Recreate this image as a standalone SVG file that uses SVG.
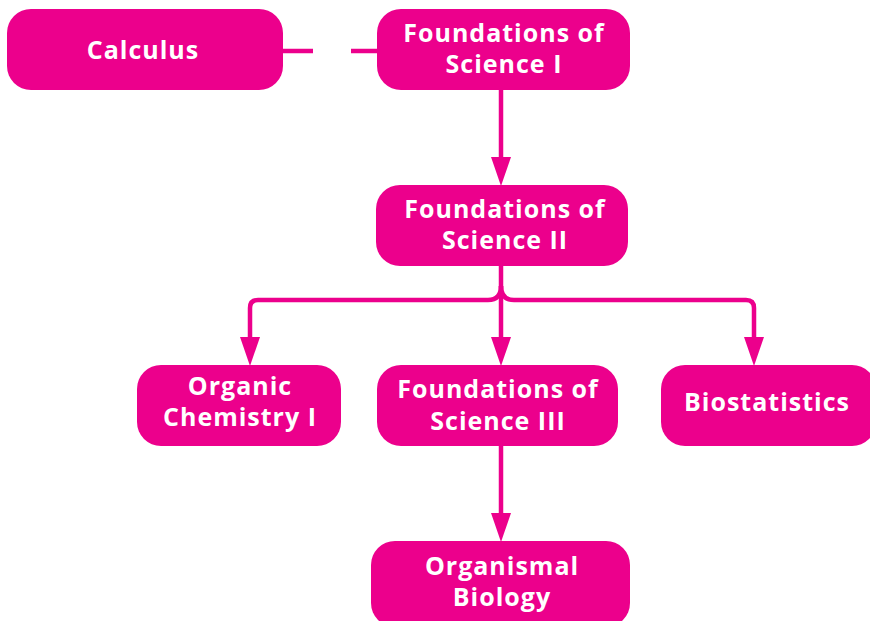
<svg xmlns="http://www.w3.org/2000/svg" width="870" height="621" viewBox="0 0 870 621">
<style>
.box{fill:#EC008C}
.t{fill:#fff;font-family:"Open Sans","Liberation Sans",sans-serif;font-weight:bold;font-size:25px;letter-spacing:1px;text-anchor:middle}
.ln{fill:none;stroke:#EC008C;stroke-width:4.5}
.ah{fill:#EC008C}
</style>
<rect width="870" height="621" fill="#fff"/>
<g id="connectors">
<path class="ln" d="M283,51 H313"/>
<path class="ln" d="M351,51 H377"/>
<path class="ln" d="M501,90 V162"/>
<polygon class="ah" points="491,157 511,157 501,186"/>
<path class="ln" d="M501,266 V340"/>
<path class="ln" d="M501,286 Q501,300 488,300 H258 Q250,300 250,308 V340"/>
<path class="ln" d="M501,286 Q501,300 514,300 H746 Q754,300 754,308 V340"/>
<polygon class="ah" points="240,337 260,337 250,366"/>
<polygon class="ah" points="491,337 511,337 501,366"/>
<polygon class="ah" points="744,337 764,337 754,366"/>
<path class="ln" d="M501,446 V518"/>
<polygon class="ah" points="491,513 511,513 501,542"/>
</g>
<g id="calculus"><rect class="box" x="7" y="9" width="276" height="81" rx="24"/><text class="t" x="143" y="59">Calculus</text></g>
<g id="fos1"><rect class="box" x="377" y="9" width="253" height="81" rx="24"/><text class="t" x="504" y="42">Foundations of</text><text class="t" x="504" y="73">Science I</text></g>
<g id="fos2"><rect class="box" x="376" y="185" width="252" height="81" rx="24"/><text class="t" x="505" y="218">Foundations of</text><text class="t" x="505" y="249">Science II</text></g>
<g id="orgchem"><rect class="box" x="137" y="365" width="204" height="81" rx="24"/><text class="t" x="240" y="395">Organic</text><text class="t" x="240" y="426">Chemistry I</text></g>
<g id="fos3"><rect class="box" x="377" y="365" width="241" height="81" rx="24"/><text class="t" x="498" y="398">Foundations of</text><text class="t" x="498" y="430">Science III</text></g>
<g id="biostat"><rect class="box" x="661" y="365" width="215" height="81" rx="24"/><text class="t" x="767" y="411">Biostatistics</text></g>
<g id="orgbio"><rect class="box" x="371" y="541" width="259" height="86" rx="24"/><text class="t" x="502" y="575">Organismal</text><text class="t" x="502" y="606">Biology</text></g>
</svg>
